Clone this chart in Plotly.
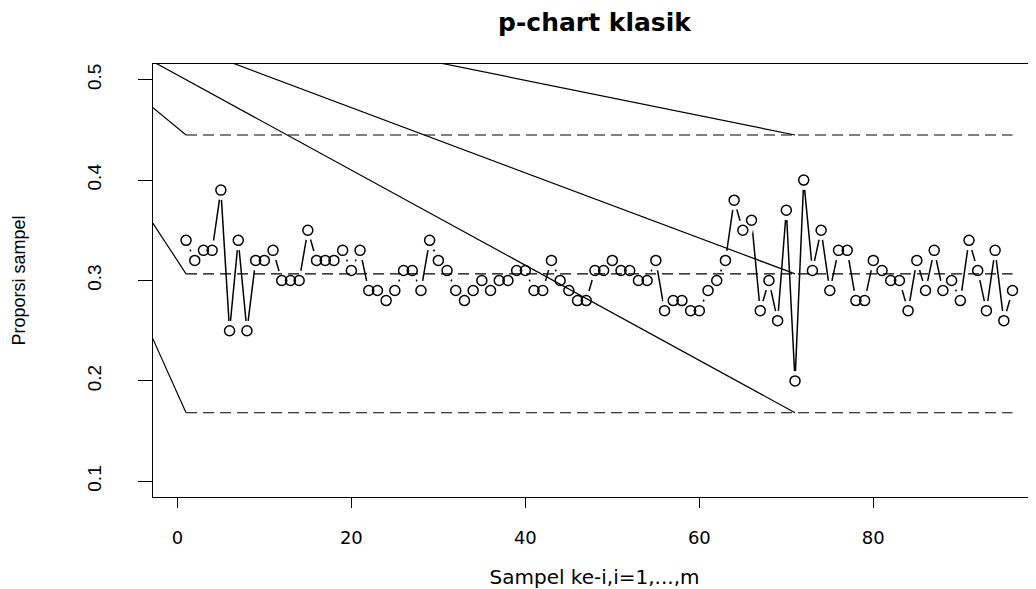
import plotly.graph_objects as go

# ---- data ----
sample_no = list(range(1, 97))
proportion = [
    0.34, 0.32, 0.33, 0.33, 0.39, 0.25, 0.34, 0.25, 0.32, 0.32,
    0.33, 0.30, 0.30, 0.30, 0.35, 0.32, 0.32, 0.32, 0.33, 0.31,
    0.33, 0.29, 0.29, 0.28, 0.29, 0.31, 0.31, 0.29, 0.34, 0.32,
    0.31, 0.29, 0.28, 0.29, 0.30, 0.29, 0.30, 0.30, 0.31, 0.31,
    0.29, 0.29, 0.32, 0.30, 0.29, 0.28, 0.28, 0.31, 0.31, 0.32,
    0.31, 0.31, 0.30, 0.30, 0.32, 0.27, 0.28, 0.28, 0.27, 0.27,
    0.29, 0.30, 0.32, 0.38, 0.35, 0.36, 0.27, 0.30, 0.26, 0.37,
    0.20, 0.40, 0.31, 0.35, 0.29, 0.33, 0.33, 0.28, 0.28, 0.32,
    0.31, 0.30, 0.30, 0.27, 0.32, 0.29, 0.33, 0.29, 0.30, 0.28,
    0.34, 0.31, 0.27, 0.33, 0.26, 0.29,
]
limit_values = [0.4449, 0.3066, 0.1683]   # UCL, CL, LCL
limit_span = [1, 96]
ray_origin = [-21.8, 0.608]
ray_targets_x = [1, 71]
x_ticks = [0, 20, 40, 60, 80]
y_ticks = [0.1, 0.2, 0.3, 0.4, 0.5]

fig = go.Figure()

# connecting line (gaps around points produced by white masks)
fig.add_trace(go.Scatter(x=sample_no, y=proportion, mode="lines",
                         line=dict(color="black", width=1.5),
                         hoverinfo="skip", showlegend=False))
fig.add_trace(go.Scatter(x=sample_no, y=proportion, mode="markers",
                         marker=dict(symbol="circle", size=20, color="white",
                                     line=dict(width=0)),
                         hoverinfo="skip", showlegend=False))

# dashed control limits
for lim in limit_values:
    fig.add_trace(go.Scatter(x=limit_span, y=[lim, lim], mode="lines",
                             line=dict(color="black", width=1.2, dash="11px,6px"),
                             hoverinfo="skip", showlegend=False))

# solid rays to the limits
rx, ry = [], []
for tx in ray_targets_x:
    for lim in limit_values:
        rx += [ray_origin[0], tx, None]
        ry += [ray_origin[1], lim, None]
fig.add_trace(go.Scatter(x=rx, y=ry, mode="lines",
                         line=dict(color="black", width=1.2),
                         hoverinfo="skip", showlegend=False))

# open circles
fig.add_trace(go.Scatter(x=sample_no, y=proportion, mode="markers",
                         marker=dict(symbol="circle-open", size=10, color="black",
                                     line=dict(width=1.5)),
                         showlegend=False))

# page body has an 8px margin, so the figure is sized to fit the window
fig.update_layout(
    width=1028, height=581,
    margin=dict(l=145, r=0, t=56, b=92, autoexpand=False),
    paper_bgcolor="white", plot_bgcolor="white",
    title=dict(text="p-chart klasik", x=0.5, xanchor="center", xref="paper",
               y=1 - 14 / 581, yanchor="middle", yref="container", automargin=False,
               font=dict(family="DejaVu Sans", size=25, color="black", weight="bold")),
    xaxis=dict(range=[-2.8, 98.7], tickvals=x_ticks, ticks="outside", ticklen=10,
               tickcolor="black", showline=True, linecolor="black", linewidth=1.2,
               mirror=True, showgrid=False, zeroline=False, automargin=False,
               tickfont=dict(family="DejaVu Sans", size=18, color="black"),
               ticklabelstandoff=14,
               title=dict(text="Sampel ke-i,i=1,...,m", standoff=31,
                          font=dict(family="DejaVu Sans", size=20, color="black"))),
    yaxis=dict(range=[0.0844, 0.5156], tickvals=y_ticks, ticks="outside", ticklen=14,
               tickcolor="black", showline=True, linecolor="black", linewidth=1.2,
               mirror=False, showgrid=False, zeroline=False, tickangle=-90,
               automargin=False,
               tickfont=dict(family="Liberation Sans", size=19, color="black"),
               ticklabelstandoff=29,
               title=dict(text="Proporsi sampel", standoff=53,
                          font=dict(family="Liberation Sans", size=18, color="black"))),
)

fig.write_html("out.html")
